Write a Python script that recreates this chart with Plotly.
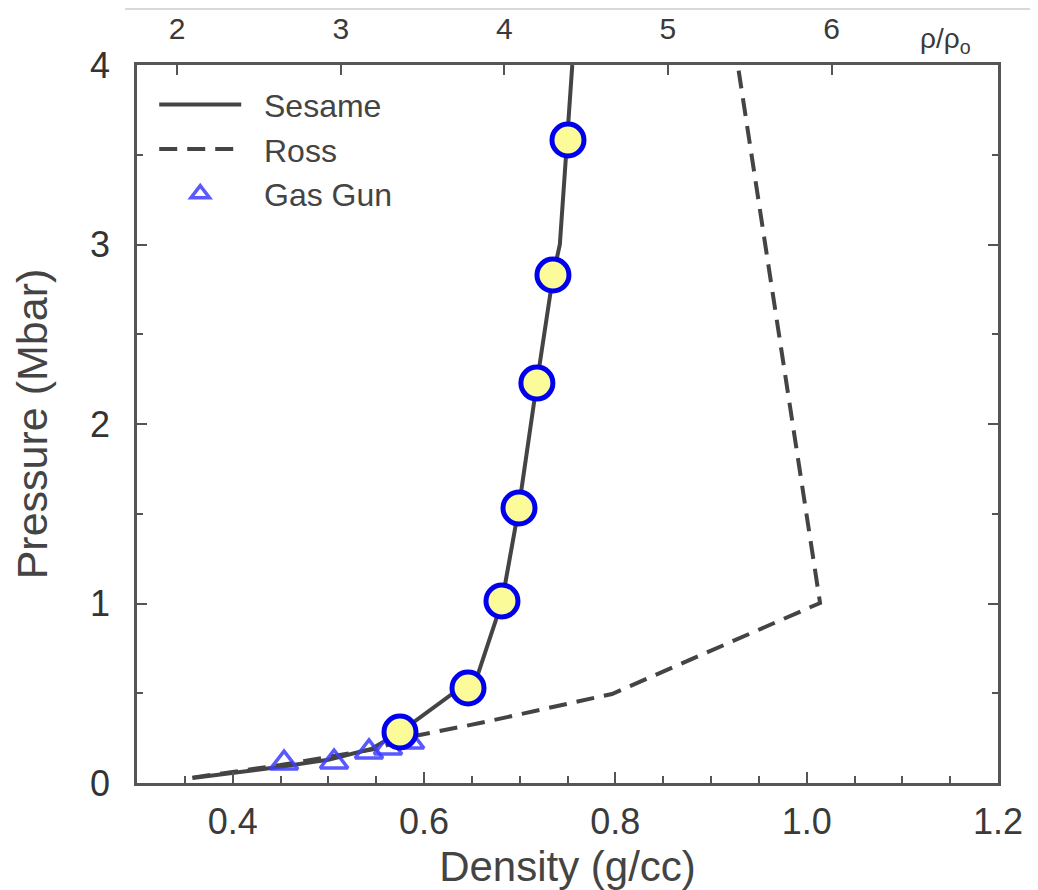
import plotly.graph_objects as go

# Liquid deuterium reference density (g/cc) for the top rho/rho0 axis
RHO0 = 0.171
compression_ticks = [2, 3, 4, 5, 6]

sesame_rho = [0.358, 0.45, 0.50, 0.545, 0.575, 0.656, 0.6815, 0.699, 0.718, 0.735, 0.742, 0.755]
sesame_p = [0.028, 0.09, 0.13, 0.19, 0.284, 0.60, 1.01, 1.53, 2.23, 2.83, 3.0, 4.0]

ross_rho = [0.358, 0.45, 0.55, 0.585, 0.6585, 0.7965, 1.014, 0.928]
ross_p = [0.03, 0.10, 0.19, 0.256, 0.334, 0.496, 1.003, 4.0]

gasgun_rho = [0.4537, 0.506, 0.5425, 0.5624, 0.5854]
gasgun_p = [0.111, 0.117, 0.173, 0.195, 0.228]

laser_rho = [0.5749, 0.646, 0.6815, 0.6993, 0.718, 0.7348, 0.7505]
laser_p = [0.284, 0.529, 1.014, 1.532, 2.228, 2.830, 3.582]

LINE = "#444444"
AX = "#555555"
FONT = "Liberation Sans, Arial, Helvetica, sans-serif"
NB = "\u00a0\u00a0"

# page body has an 8px default margin; figure is sized to fit the window
W, H = 1030, 882
L, T, R, B = 129, 57, 40, 107

fig = go.Figure()
fig.add_trace(go.Scatter(x=sesame_rho, y=sesame_p, mode="lines", name=NB + "Sesame",
                         line=dict(color=LINE, width=4)))
fig.add_trace(go.Scatter(x=ross_rho, y=ross_p, mode="lines", name=NB + "Ross",
                         line=dict(color=LINE, width=4, dash="18px,10px")))
fig.add_trace(go.Scatter(x=gasgun_rho, y=gasgun_p, mode="markers", name=NB + "Gas Gun",
                         marker=dict(symbol="triangle-up-open", size=24,
                                     color="rgba(60,60,255,0.85)",
                                     line=dict(width=3.5, color="rgba(60,60,255,0.85)"))))
fig.add_trace(go.Scatter(x=laser_rho, y=laser_p, mode="markers", showlegend=False,
                         marker=dict(symbol="circle", size=32, color="#fbfb9a",
                                     line=dict(width=5, color="#0000ee"))))
# invisible trace to bind the top/right axes
fig.add_trace(go.Scatter(x=[0.5], y=[0], xaxis="x2", yaxis="y2", mode="markers",
                         marker=dict(opacity=0), showlegend=False, hoverinfo="skip"))

axis_common = dict(showline=True, linecolor=AX, linewidth=2.5, showgrid=False,
                   zeroline=False, ticks="inside", tickcolor=AX, tickwidth=1.5,
                   automargin=False)

fig.update_layout(
    width=W, height=H,
    margin=dict(l=L, r=R, t=T, b=B),
    paper_bgcolor="white", plot_bgcolor="white",
    font=dict(family=FONT, color="#333333"),
    xaxis=dict(range=[0.3, 1.2], tickvals=[0.4, 0.6, 0.8, 1.0, 1.2],
               ticktext=["0.4", "0.6", "0.8", "1.0", "1.2"], ticklen=11,
               minor=dict(dtick=0.05, ticklen=7, ticks="inside", tickcolor=AX, tickwidth=1.5),
               tickfont=dict(size=36, color="#3a3a3a"), ticklabelstandoff=5,
               title=dict(text="Density (g/cc)", font=dict(size=42, color="#444444"), standoff=12),
               **axis_common),
    xaxis2=dict(range=[0.3, 1.2], overlaying="x", side="top", anchor="y",
                tickvals=[n * RHO0 for n in compression_ticks],
                ticktext=[str(n) for n in compression_ticks], ticklen=10,
                tickfont=dict(size=30, color="#3a3a3a"), ticklabelstandoff=11,
                **axis_common),
    yaxis=dict(range=[0, 4], tickvals=[0, 1, 2, 3, 4], ticklen=10,
               minor=dict(dtick=0.5, ticklen=6, ticks="inside", tickcolor=AX, tickwidth=1.5),
               tickfont=dict(size=36, color="#333333"), ticklabelstandoff=17,
               title=dict(text="Pressure (Mbar)", font=dict(size=43, color="#444444"), standoff=30),
               **axis_common),
    yaxis2=dict(range=[0, 4], overlaying="y", side="right", anchor="x",
                tickvals=[0, 1, 2, 3, 4], ticklen=10, showticklabels=False,
                minor=dict(dtick=0.5, ticklen=6, ticks="inside", tickcolor=AX, tickwidth=1.5),
                **axis_common),
    legend=dict(x=0.02, y=0.983, xanchor="left", yanchor="top",
                bgcolor="rgba(0,0,0,0)", font=dict(size=32, color="#444444"),
                itemwidth=82, tracegroupgap=0),
    showlegend=True,
)

fig.add_annotation(text="ρ/ρ<sub>o</sub>", xref="paper", yref="paper",
                   x=(945 - 137) / 861, y=(783 - 40) / 718, showarrow=False,
                   font=dict(size=28, color="#3a3a3a"), xanchor="center", yanchor="middle")

fig.add_shape(type="line", xref="paper", yref="paper",
              x0=(125 - 137) / 861, x1=(1030 - 129) / 861,
              y0=(775 - 1) / 718, y1=(775 - 1) / 718,
              line=dict(color="#cccccc", width=1.5))

fig.write_html("out.html")
